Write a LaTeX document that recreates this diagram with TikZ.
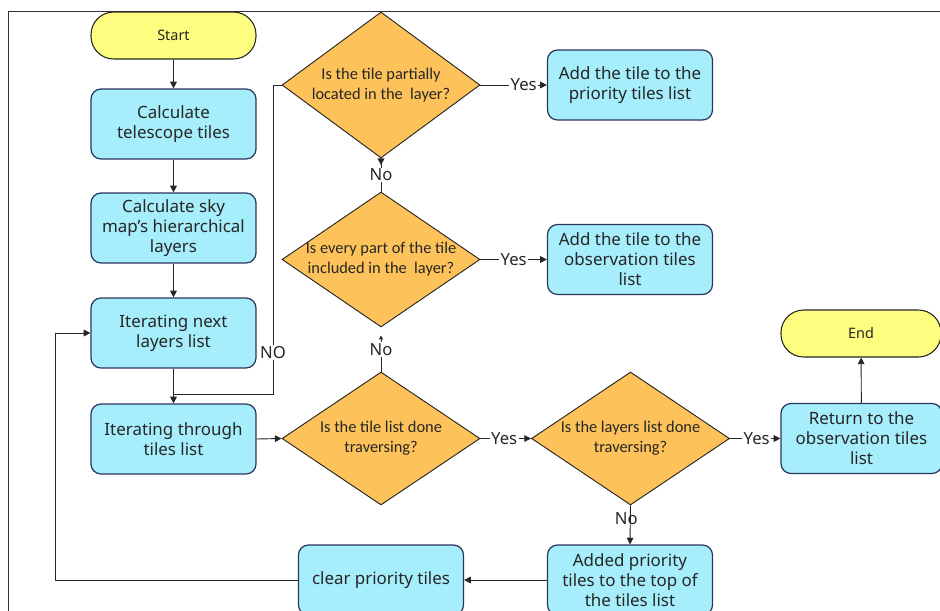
\documentclass[tikz,border=0pt]{standalone}
\usepackage{fontspec}
\setmainfont{Noto Sans}
\newfontfamily\qfont{Carlito}
\usetikzlibrary{shapes.geometric,arrows.meta}
\definecolor{boxfill}{HTML}{A6EEFB}
\definecolor{boxline}{HTML}{2B365E}
\definecolor{decfill}{HTML}{FDC35A}
\definecolor{termfill}{HTML}{FDFD80}
\definecolor{wire}{HTML}{262626}
\tikzset{
  procbox/.style={draw=boxline, line width=0.9pt, fill=boxfill, rounded corners=7.5pt,
    minimum width=165*0.75pt, minimum height=70*0.75pt, inner sep=0pt, align=center,
    font=\fontsize{12.7}{15}\selectfont, text=black!85},
  decision/.style={diamond, draw=black!85, line width=0.7pt, fill=decfill, inner sep=0pt,
    minimum width=198*0.75pt},
  dectext/.style={align=center, font=\qfont\fontsize{12.3}{15}\selectfont, text=black!85},
  terminal/.style={draw=black!85, line width=0.8pt, fill=termfill, rounded corners=17pt,
    minimum width=165*0.75pt, minimum height=47*0.75pt, inner sep=0pt,
    font=\fontsize{10.8}{12}\selectfont, text=black!85},
  flow/.style={draw=wire, line width=0.7pt, -{Triangle[length=5pt,width=5pt]}},
  plain/.style={draw=wire, line width=0.7pt},
  lbl/.style={fill=white, inner sep=1pt, font=\fontsize{12.5}{14}\selectfont, text=black!85},
}
\begin{document}
\begin{tikzpicture}[x=0.75pt,y=-0.75pt]
\useasboundingbox (0,0) rectangle (940,611);
% outer frame
\draw[black!80, line width=0.7pt] (8,700) -- (8,11) -- (1000,11);

% main column
\node[terminal] (start) at (173.5,35.5) {Start};
\node[procbox] (tele) at (173.5,124) {Calculate\\telescope tiles};
\node[procbox] (sky) at (173.5,228) {Calculate sky\\map's hierarchical\\layers};
\node[procbox] (layers) at (173.5,333) {Iterating next\\layers list};
\node[procbox] (tiles) at (173.5,439) {Iterating through\\tiles list};

% decisions (text set as a centred label so the shape keeps its size)
\node[decision, minimum height=146*0.75pt,
  label={[dectext]center:Is the tile partially\\located in the\ \ layer?}] (d1) at (381,85) {};
\node[decision, minimum height=135*0.75pt,
  label={[dectext]center:Is every part of the tile\\included in the\ \ layer?}] (d2) at (381,259.5) {};
\node[decision, minimum height=133*0.75pt,
  label={[dectext]center:Is the tile list done\\traversing?}] (d3) at (381,438.5) {};
\node[decision, minimum height=133*0.75pt,
  label={[dectext]center:Is the layers list done\\traversing?}] (d4) at (630.5,438.5) {};

% right side boxes
\node[procbox] (prio) at (630,85) {Add the tile to the\\priority tiles list};
\node[procbox] (obs) at (630,259.5) {Add the tile to the\\observation tiles\\list};
\node[procbox, minimum width=161*0.75pt] (ret) at (861.5,438.5) {Return to the\\observation tiles\\list};
\node[terminal, minimum width=160*0.75pt] (end) at (861,333.5) {End};
\node[procbox] (added) at (630,580) {Added priority\\tiles to the top of\\the tiles list};
\node[procbox] (clear) at (381,580) {clear priority tiles};

% connectors down the main column
\draw[flow] (start) -- (tele);
\draw[flow] (tele) -- (sky);
\draw[flow] (sky) -- (layers);
\draw[flow] (layers) -- (tiles);

% first decision
\draw[flow] (d1.east) -- node[lbl, pos=0.65] {Yes} (prio.west);
\coordinate (nobend) at (273,394);
\draw[plain] (d1.west) -- (273,85) -- node[lbl, pos=0.867] {NO} (nobend) -- (173.5,394);
\draw[{Triangle[length=5pt,width=5pt,reversed]}-, draw=wire, line width=0.7pt] (d1.south) -- node[lbl] {No} (d2.north);

% second decision
\draw[flow] (d2.east) -- node[lbl, pos=0.5] {Yes} (obs.west);
\draw[flow, shorten >=6pt, -{Triangle[length=3pt,width=3pt]}] (d3.north) -- node[lbl] {No} (d2.south);

% tile traversal row
\draw[flow] (tiles.east) -- (d3.west);
\draw[flow] (d3.east) -- node[lbl, pos=0.47] {Yes} (d4.west);
\draw[flow] (d4.east) -- node[lbl, pos=0.53] {Yes} (ret.west);
\draw[flow] (ret) -- (end);
\draw[flow] (d4.south) -- node[font=\fontsize{12.5}{14}\selectfont, text=black!85, xshift=-4*0.75pt, pos=0.35] {No} (added.north);
\draw[flow] (added) -- (clear);
\coordinate (loopturn) at (55,580);
\draw[flow] (clear.west) -- (loopturn) -- (55,333) -- (layers.west);
\end{tikzpicture}
\end{document}
